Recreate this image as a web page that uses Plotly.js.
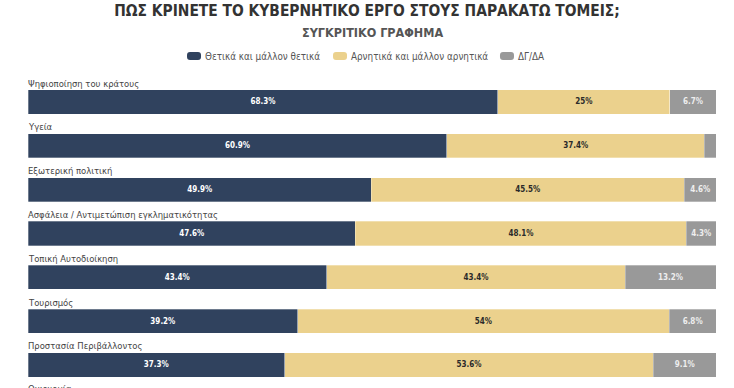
<!DOCTYPE html>
<html><head><meta charset="utf-8">
<script src="https://cdn.plot.ly/plotly-3.0.1.min.js"></script>
<style>html,body{margin:0;padding:0;background:#fff}#chart{width:734px;height:388px}</style>
</head><body><div id="chart"></div>
<script>
const categories = ["Ψηφιοποίηση του κράτους","Υγεία","Εξωτερική πολιτική","Ασφάλεια / Αντιμετώπιση εγκληματικότητας","Τοπική Αυτοδιοίκηση","Τουρισμός","Προστασία Περιβάλλοντος","Οικονομία"];
const positive = [68.3,60.9,49.9,47.6,43.4,39.2,37.3,null];
const negative = [25,37.4,45.5,48.1,43.4,54,53.6,null];
const dkna = [6.7,1.7,4.6,4.3,13.2,6.8,9.1,null];
const seriesNames = ["Θετικά και μάλλον θετικά","Αρνητικά και μάλλον αρνητικά","ΔΓ/ΔΑ"];
const colors = ["#30425e","#ebd18d","#999999"];
const textColors = ["#ffffff","#2a2a2a","#eeeeee"];
const COND = "DejaVu Sans Condensed, DejaVu Sans";

const lbl = v => (v == null || v < 3) ? "" : (v + "%");
const series = [positive, negative, dkna];
const traces = series.map((vals, i) => ({
  type: "bar", orientation: "h", name: seriesNames[i],
  y: categories, x: vals, text: vals.map(lbl),
  textposition: "inside", insidetextanchor: "middle",
  textfont: {family: COND, size: 8, color: textColors[i], weight: 700, stretch: "condensed"},
  marker: {color: colors[i], line: {color: "rgba(255,255,255,0.6)", width: 0.5}},
  width: 0.55, hoverinfo: "none", cliponaxis: true, showlegend: false
}));

const labelFont = {family: COND, size: 9.4, color: "#444", stretch: "condensed"};
const annotations = categories.slice(0, 7).map(c => ({
  x: 0, xref: "paper", y: c, yref: "y", xanchor: "left", yanchor: "middle",
  xshift: -2, yshift: 19, text: c, showarrow: false, font: labelFont
}));
annotations.push({x: 0, xref: "paper", y: 0, yref: "paper", xanchor: "left", yanchor: "middle",
  xshift: -2, yshift: -0.5, text: categories[7], showarrow: false, font: labelFont});

// legend (drawn by hand: rounded swatches + text)
const legX = [0.2413, 0.4535, 0.6962];
const swatch = "M-4,-4 H4 Q7,-4 7,-1 V1 Q7,4 4,4 H-4 Q-7,4 -7,1 V-1 Q-7,-4 -4,-4 Z";
const shapes = [];
seriesNames.forEach((n, i) => {
  shapes.push({type: "path", xref: "paper", yref: "paper", xsizemode: "pixel", ysizemode: "pixel",
    xanchor: legX[i], yanchor: 1.044, path: swatch, fillcolor: colors[i], line: {width: 0}});
  annotations.push({x: legX[i], xref: "paper", y: 1.044, yref: "paper", xanchor: "left", yanchor: "middle",
    xshift: 9, text: n, showarrow: false, font: {family: COND, size: 9.8, color: "#555", stretch: "condensed"}});
});
annotations.push({x: 0.5, xref: "paper", y: (388 - 32) / 318, yref: "paper", xanchor: "center", yanchor: "middle",
  text: "ΣΥΓΚΡΙΤΙΚΟ ΓΡΑΦΗΜΑ", showarrow: false,
  font: {family: COND, size: 12.5, color: "#555", weight: 700, stretch: "condensed"}});

const layout = {
  width: 734, height: 388,
  margin: {l: 28, r: 18, t: 70, b: 0},
  barmode: "stack", bargap: 0,
  paper_bgcolor: "#fff", plot_bgcolor: "#fff",
  title: {text: "ΠΩΣ ΚΡΙΝΕΤΕ ΤΟ ΚΥΒΕΡΝΗΤΙΚΟ ΕΡΓΟ ΣΤΟΥΣ ΠΑΡΑΚΑΤΩ ΤΟΜΕΙΣ;",
    font: {family: COND, size: 15.4, color: "#333", weight: 700, stretch: "condensed"},
    x: 0.5, xanchor: "center", y: 1 - 11/388, yref: "container", yanchor: "middle"},
  showlegend: false,
  xaxis: {range: [0, 100], visible: false, fixedrange: true},
  yaxis: {type: "category", range: [6.525, -0.73], visible: false, fixedrange: true},
  annotations: annotations,
  shapes: shapes
};
Plotly.newPlot("chart", traces, layout, {displayModeBar: false, staticPlot: true});
</script></body></html>
